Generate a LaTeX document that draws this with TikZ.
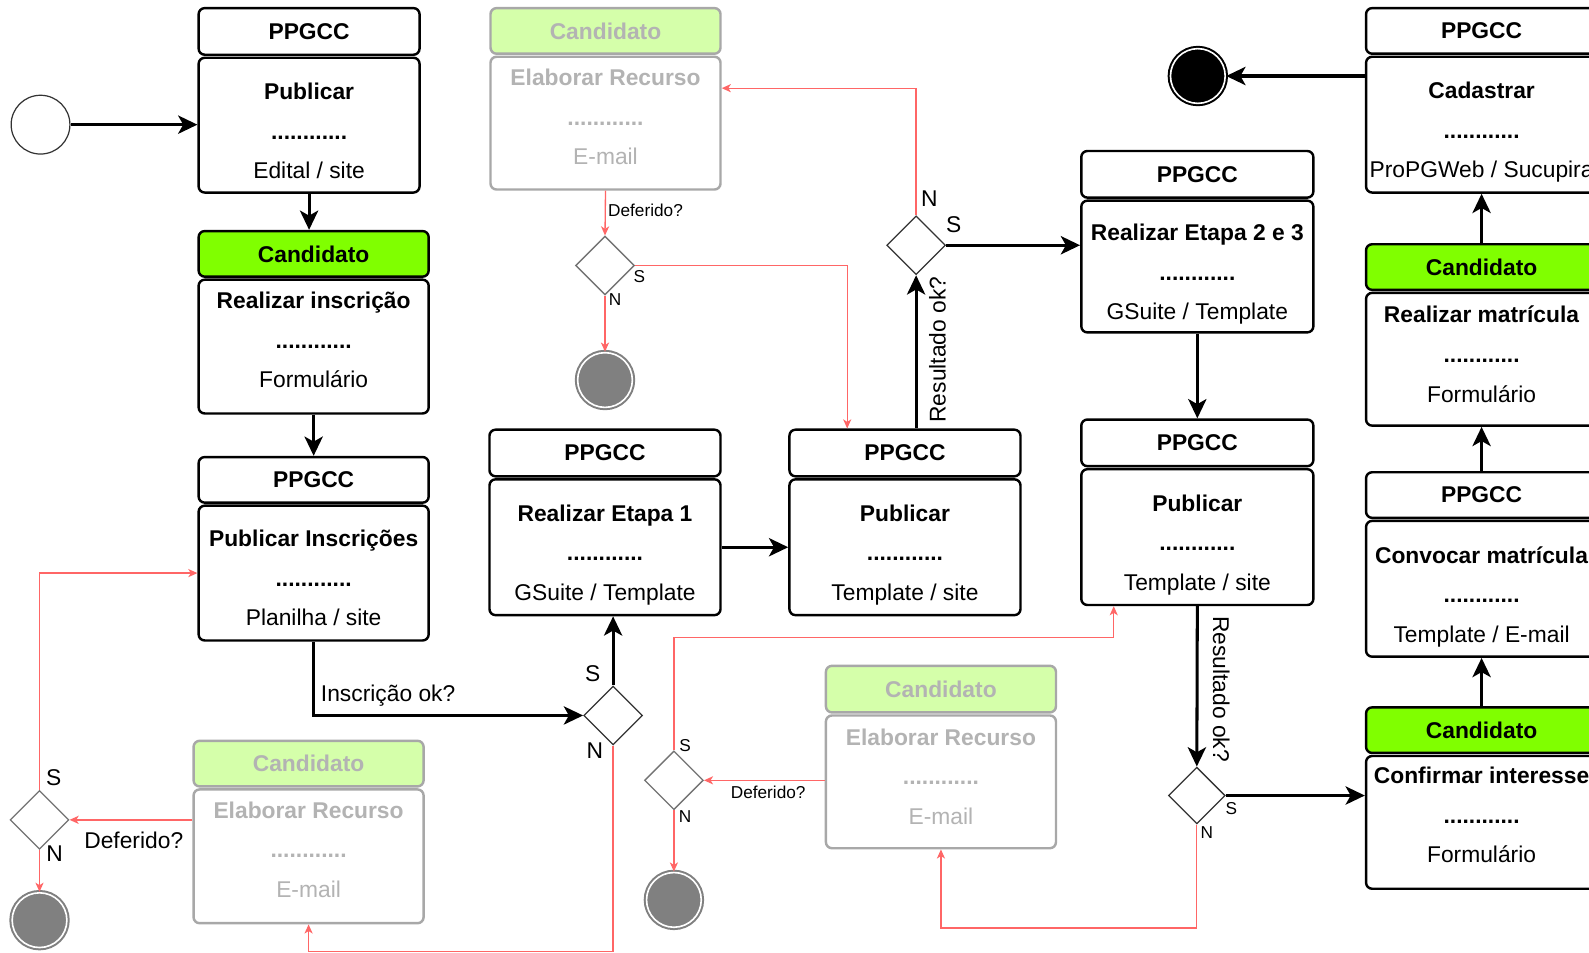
\documentclass[tikz,border=0pt]{standalone}
\usepackage{fontspec}
\setmainfont{Liberation Sans}
\usetikzlibrary{shapes.geometric,arrows.meta}

\definecolor{candgreen}{HTML}{80FF00}
\definecolor{recgreen}{HTML}{D5FFAA}
\definecolor{recline}{HTML}{A8A8A8}
\definecolor{rectext}{HTML}{B3B3B3}
\definecolor{backred}{HTML}{FF6666}
\definecolor{endfill}{HTML}{808080}

\begin{document}
\begin{tikzpicture}[x=1pt, y=-1pt,
    box/.style={draw, rounded corners=6pt, line width=2.4pt, minimum width=228pt, inner sep=0pt, fill=white},
    hdr/.style={box, minimum height=46pt, font=\bfseries\fontsize{22.5}{27}\selectfont},
    cand/.style={hdr, fill=candgreen},
    recurso/.style={draw=recline, text=rectext},
    btext/.style={anchor=north, align=center, inner sep=0pt, font=\fontsize{22.5}{39}\selectfont},
    decision/.style={diamond, draw=black!80, line width=1.3pt, fill=white, minimum width=58pt, minimum height=58pt, inner sep=0pt},
    subdecision/.style={decision, draw=black!55},
    startstate/.style={circle, draw=black!80, line width=1.2pt, fill=white, minimum size=58pt, inner sep=0pt},
    endstate/.style={circle, draw=#1, fill=#1, line width=2pt, double=white, double distance=1.6pt, minimum size=54pt, inner sep=0pt},
    flow/.style={line width=3pt, -{Stealth[length=19pt, width=18pt, inset=5pt]}},
    back/.style={draw=backred, line width=1.3pt, -{Stealth[length=9pt, width=8pt, inset=2.5pt]}},
    lbl/.style={font=\fontsize{22.5}{27}\selectfont, inner sep=0pt},
    slbl/.style={font=\fontsize{17}{20}\selectfont, inner sep=0pt}
]
\useasboundingbox (0,0) rectangle (1568,940);
\clip (0,0) rectangle (1568,940);
\fill[white] (0,0) rectangle (1568,940);

% start / end states
\node[startstate] (ini) at (40,123) {};
\node[endstate=black] (fim) at (1182,75) {};
\node[endstate=endfill] (fim1) at (597,375) {};
\node[endstate=endfill] (fim2) at (39,908) {};
\node[endstate=endfill] (fim3) at (665,888) {};

% PPGCC: Publicar edital
\node[hdr, minimum width=218pt] (pub1h) at (305,31) {PPGCC};
\node[box, minimum width=218pt, minimum height=133pt] (pub1) at (305,123.5) {};
\node[btext] (pub1t) at (305,82) {\textbf{Publicar}\\\textbf{............}\\Edital / site};

% Candidato: inscricao
\node[cand, minimum width=227pt, minimum height=45pt] (insch) at (309.5,250.5) {Candidato};
\node[box, minimum width=227pt, minimum height=132pt] (insc) at (309.5,342) {};
\node[btext] (insct) at (309.5,288) {\textbf{Realizar inscrição}\\\textbf{............}\\Formulário};

% PPGCC: publicar inscricoes
\node[hdr, minimum width=227pt, minimum height=45pt] (pubinsch) at (309.5,473.5) {PPGCC};
\node[box, minimum width=227pt, minimum height=133pt] (pubinsc) at (309.5,565.5) {};
\node[btext] (pubinsct) at (309.5,523) {\textbf{Publicar Inscrições}\\\textbf{............}\\Planilha / site};

% PPGCC: etapa 1
\node[hdr] (etapa1h) at (597,447) {PPGCC};
\node[box, minimum height=134pt] (etapa1) at (597,540) {};
\node[btext] (etapa1t) at (597,498) {\textbf{Realizar Etapa 1}\\\textbf{............}\\GSuite / Template};

% PPGCC: publicar resultado etapa 1
\node[hdr] (pub2h) at (893,447) {PPGCC};
\node[box, minimum height=134pt] (pub2) at (893,540) {};
\node[btext] (pub2t) at (893,498) {\textbf{Publicar}\\\textbf{............}\\Template / site};

% PPGCC: etapas 2 e 3
\node[hdr, minimum width=229pt] (etapa23h) at (1181.5,172) {PPGCC};
\node[box, minimum width=229pt, minimum height=130pt] (etapa23) at (1181.5,263) {};
\node[btext] (etapa23t) at (1181.5,221) {\textbf{Realizar Etapa 2 e 3}\\\textbf{............}\\GSuite / Template};

% PPGCC: publicar resultado final
\node[hdr, minimum width=229pt] (pub3h) at (1181.5,437) {PPGCC};
\node[box, minimum width=229pt, minimum height=134pt] (pub3) at (1181.5,530) {};
\node[btext] (pub3t) at (1181.5,488) {\textbf{Publicar}\\\textbf{............}\\Template / site};

% right column, bottom to top
\node[cand, minimum height=45pt] (confh) at (1462,720.5) {Candidato};
\node[box, minimum height=131pt] (conf) at (1462,811.5) {};
\node[btext] (conft) at (1462,757) {\textbf{Confirmar interesse}\\\textbf{............}\\Formulário};

\node[hdr, minimum height=45pt] (convh) at (1462,488.5) {PPGCC};
\node[box, minimum height=134pt] (conv) at (1462,581) {};
\node[btext] (convt) at (1462,539) {\textbf{Convocar matrícula}\\\textbf{............}\\Template / E-mail};

\node[cand, minimum height=45pt] (matrh) at (1462,263.5) {Candidato};
\node[box, minimum height=131pt] (matr) at (1462,354.5) {};
\node[btext] (matrt) at (1462,302) {\textbf{Realizar matrícula}\\\textbf{............}\\Formulário};

\node[hdr, minimum height=45pt] (cadh) at (1462,30.5) {PPGCC};
\node[box, minimum height=134pt] (cad) at (1462,123) {};
\node[btext] (cadt) at (1462,81) {\textbf{Cadastrar}\\\textbf{............}\\ProPGWeb / Sucupira};

% recursos (greyed out)
\node[cand, recurso, fill=recgreen, minimum width=227pt, minimum height=45pt] (rec1h) at (597.5,30.5) {Candidato};
\node[box, recurso, minimum width=227pt, minimum height=131pt] (rec1) at (597.5,121.5) {};
\node[btext, text=rectext] (rec1t) at (597.5,68) {\textbf{Elaborar Recurso}\\\textbf{............}\\E-mail};

\node[cand, recurso, fill=recgreen, minimum width=227pt, minimum height=45pt] (rec2h) at (304.5,753.5) {Candidato};
\node[box, recurso, minimum width=227pt, minimum height=132pt] (rec2) at (304.5,845) {};
\node[btext, text=rectext] (rec2t) at (304.5,791) {\textbf{Elaborar Recurso}\\\textbf{............}\\E-mail};

\node[cand, recurso, fill=recgreen, minimum width=227pt, minimum height=46pt] (rec3h) at (928.5,680) {Candidato};
\node[box, recurso, minimum width=227pt, minimum height=131pt] (rec3) at (928.5,771.5) {};
\node[btext, text=rectext] (rec3t) at (928.5,719) {\textbf{Elaborar Recurso}\\\textbf{............}\\E-mail};

% decisions
\node[decision] (ok1) at (605,706) {};
\node[decision] (ok2) at (904,242) {};
\node[decision, minimum width=56pt, minimum height=56pt] (ok3) at (1181,785) {};
\node[subdecision] (def1) at (597,262) {};
\node[subdecision] (def2) at (39,809) {};
\node[subdecision] (def3) at (665,770) {};

% main flow
\draw[flow] (ini) -- (ini -| pub1.west);
\draw[flow] (pub1.south) -- (pub1.south |- insch.north);
\draw[flow] (insc.south) -- (pubinsch.north);
\draw[flow] (pubinsc.south) |- (ok1.west);
\draw[flow] (ok1.north) -- (ok1.north |- etapa1.south);
\draw[flow] (etapa1.east) -- (pub2.west);
\draw[flow] (ok2.south |- pub2h.north) -- (ok2.south);
\draw[flow] (ok2.east) -- (ok2.east -| etapa23.west);
\draw[flow] (etapa23.south) -- (pub3h.north);
\draw[flow] (pub3.south) -- (ok3.north);
\draw[flow] (ok3.east) -- (ok3.east -| conf.west);
\draw[flow] (confh.north) -- (conv.south);
\draw[flow] (convh.north) -- (matr.south);
\draw[flow] (matrh.north) -- (cad.south);
\draw[flow] (cad.west |- fim.east) -- (fim.east);

% recurso paths
\draw[back] (ok1.south) -- ++(0,203) -| (rec2.south);
\draw[back] (rec2.west |- def2.east) -- (def2.east);
\draw[back] (def2.north) |- (pubinsc.west);
\draw[back] (def2.south) -- (fim2);

\draw[back] (ok2.north) |- ([yshift=34.5pt]rec1.east);
\draw[back] (rec1.south) -- (def1.north);
\draw[back] (def1.east) -| ([xshift=-57pt]pub2h.north);
\draw[back] (def1.south) -- (fim1);

\draw[back] (ok3.south) -- ++(0,102) -| (rec3.south);
\draw[back] (rec3.west |- def3.east) -- (def3.east);
\draw[back] (def3.north) -- ++(0,-111) -| ([xshift=-82.5pt]pub3.south);
\draw[back] (def3.south) -- (fim3);

% guard labels
\node[lbl] (qinsc) at (383,686) {Inscrição ok?};
\node[lbl] (ok1s) at (585,665) {S};
\node[lbl] (ok1n) at (587,741) {N};
\node[lbl, rotate=90] (qres1) at (925,345) {Resultado ok?};
\node[lbl] (ok2n) at (917,196) {N};
\node[lbl] (ok2s) at (941,222) {S};
\node[lbl, rotate=-90] (qres2) at (1205,680) {Resultado ok?};
\node[slbl] (ok3s) at (1215,798) {S};
\node[slbl] (ok3n) at (1191,822) {N};

\node[slbl] (qdef1) at (637,208) {Deferido?};
\node[slbl] (def1s) at (631,273) {S};
\node[slbl] (def1n) at (607,296) {N};
\node[slbl] (qdef3) at (758,782) {Deferido?};
\node[slbl] (def3s) at (676,736) {S};
\node[slbl] (def3n) at (676,806) {N};
\node[lbl] (qdef2) at (132,829) {Deferido?};
\node[lbl] (def2s) at (53,767) {S};
\node[lbl] (def2n) at (54,842) {N};

\end{tikzpicture}
\end{document}
